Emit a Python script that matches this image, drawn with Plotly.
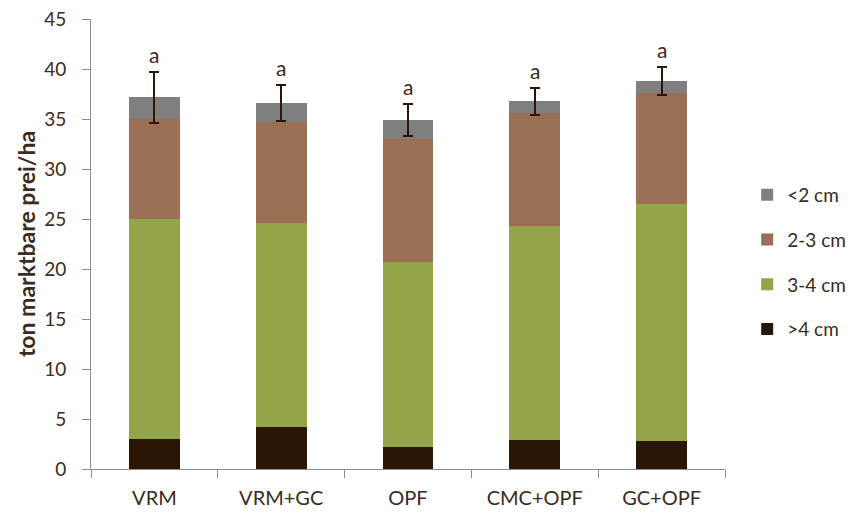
import plotly.graph_objects as go

categories = ["VRM", "VRM+GC", "OPF", "CMC+OPF", "GC+OPF"]
gt4 = [3.0, 4.2, 2.2, 2.9, 2.8]          # >4 cm
c34 = [22.0, 20.4, 18.5, 21.4, 23.7]     # 3-4 cm
c23 = [10.0, 10.1, 12.3, 11.3, 11.1]     # 2-3 cm
lt2 = [2.2, 1.9, 1.9, 1.2, 1.2]          # <2 cm
err = [2.55, 1.8, 1.6, 1.35, 1.4]
letters = ["a", "a", "a", "a", "a"]

series = [(">4 cm", gt4, "#2b1505"), ("3-4 cm", c34, "#93a548"),
          ("2-3 cm", c23, "#9a6f54"), ("<2 cm", lt2, "#7f7f7f")]

text_col = "#3b2a1e"
font = "Lato"

fig = go.Figure()
for i, (name, vals, col) in enumerate(series):
    kw = {}
    if name == "<2 cm":
        kw["error_y"] = dict(type="data", array=err, visible=True,
                             color="#2b1505", thickness=2, width=5)
    fig.add_trace(go.Bar(x=categories, y=vals, name=name, marker_color=col,
                         marker_line_width=0, legendgroup=name,
                         legendrank=100 - i, **kw))

totals = [a + b + c + d for a, b, c, d in zip(gt4, c34, c23, lt2)]
for cat, t, e, l in zip(categories, totals, err, letters):
    fig.add_annotation(x=cat, y=t + e, text=l, showarrow=False,
                       yanchor="bottom", yshift=3,
                       font=dict(family=font, size=21, color=text_col))

# page body has an 8px margin, so the figure is drawn at (8, 8)
fig.update_layout(
    width=858, height=507,
    barmode="stack", bargap=0.6,
    plot_bgcolor="white", paper_bgcolor="white",
    margin=dict(l=83, r=141, t=11, b=46, autoexpand=False),
    font=dict(family=font, size=19, color=text_col),
    legend=dict(x=1.035, y=0.46, xanchor="left", yanchor="middle",
                traceorder="grouped", tracegroupgap=17,
                font=dict(family=font, size=19, color=text_col),
                itemwidth=30),
    showlegend=True,
)
fig.update_yaxes(range=[0, 45], dtick=5, showline=True, linecolor="#8c8c8c",
                 linewidth=1, ticks="outside", ticklen=8, tickcolor="#8c8c8c",
                 showgrid=False, zeroline=False, automargin=False,
                 ticklabelstandoff=12, ticklabeloverflow="allow",
                 tickfont=dict(family=font, size=19, color=text_col),
                 title=dict(text="<b>ton marktbare prei/ha</b>",
                            font=dict(family=font, size=23, color=text_col),
                            standoff=2))
fig.update_xaxes(showline=True, linecolor="#8c8c8c", linewidth=1,
                 ticks="outside", tickson="boundaries", ticklen=8,
                 tickcolor="#8c8c8c", showgrid=False, automargin=False,
                 ticklabelstandoff=11, ticklabeloverflow="allow",
                 tickfont=dict(family=font, size=20, color=text_col))

fig.write_html("out.html")
